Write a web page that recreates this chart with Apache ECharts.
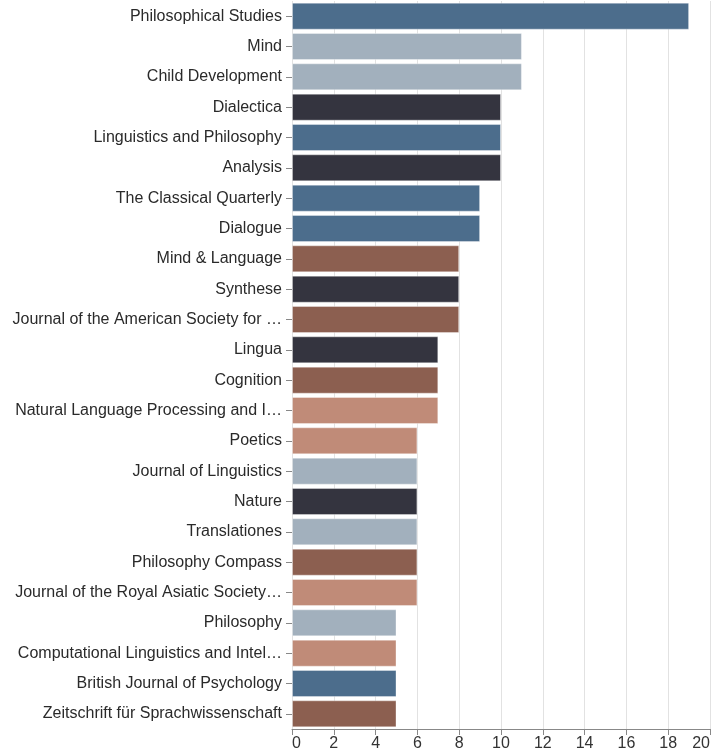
<!DOCTYPE html>
<html>
<head>
<meta charset="utf-8">
<script src="https://cdn.jsdelivr.net/npm/echarts@6/dist/echarts.min.js"></script>
<style>html,body{margin:0;padding:0;background:#fff}#c{width:712px;height:753px}</style>
</head>
<body>
<div id="c"></div>
<script>
const categories = [
  "Philosophical Studies","Mind","Child Development","Dialectica","Linguistics and Philosophy",
  "Analysis","The Classical Quarterly","Dialogue","Mind & Language","Synthese",
  "Journal of the American Society for …","Lingua","Cognition","Natural Language Processing and I…",
  "Poetics","Journal of Linguistics","Nature","Translationes","Philosophy Compass",
  "Journal of the Royal Asiatic Society…","Philosophy","Computational Linguistics and Intel…",
  "British Journal of Psychology","Zeitschrift für Sprachwissenschaft"
];
const counts = [19,11,11,10,10,10,9,9,8,8,8,7,7,7,6,6,6,6,6,6,5,5,5,5];
const groups = ["A","B","B","C","A","C","A","A","D","C","D","C","D","E","E","B","C","B","D","E","B","E","A","D"];
const groupColors = {A:"#4c6d8c", B:"#a2b0bd", C:"#34343f", D:"#8c5f50", E:"#c08b78"};
const xTicks = [0,2,4,6,8,10,12,14,16,18,20];

const chart = echarts.init(document.getElementById('c'), null, {renderer:'canvas'});
chart.setOption({
  animation:false,
  grid:{left:292, right:2, top:1, bottom:24, containLabel:false, outerBoundsMode:'none'},
  xAxis:{
    type:'value', min:xTicks[0], max:xTicks[xTicks.length-1], interval:2,
    axisLine:{show:true, lineStyle:{color:'#888', width:1}},
    axisTick:{show:true, length:6, lineStyle:{color:'#888'}},
    axisLabel:{color:'#333', fontSize:16, fontFamily:'Liberation Sans, Arial', margin:7,
      alignMinLabel:'left', alignMaxLabel:'right'},
    splitLine:{show:true, lineStyle:{color:'#e2e2e2', width:1}}
  },
  yAxis:{
    type:'category', data:categories, inverse:true,
    axisLine:{show:false},
    axisTick:{show:true, alignWithLabel:true, length:6, lineStyle:{color:'#888'}},
    axisLabel:{color:'#2a2a2a', fontSize:16, fontFamily:'Liberation Sans, Arial', margin:10},
    splitLine:{show:false}
  },
  series:[{
    type:'bar',
    barCategoryGap:'11%',
    data:counts.map((v,i)=>({value:v, itemStyle:{color:groupColors[groups[i]]}})),
    itemStyle:{borderColor:'rgba(255,255,255,0.35)', borderWidth:1}
  }]
});
</script>
</body>
</html>
